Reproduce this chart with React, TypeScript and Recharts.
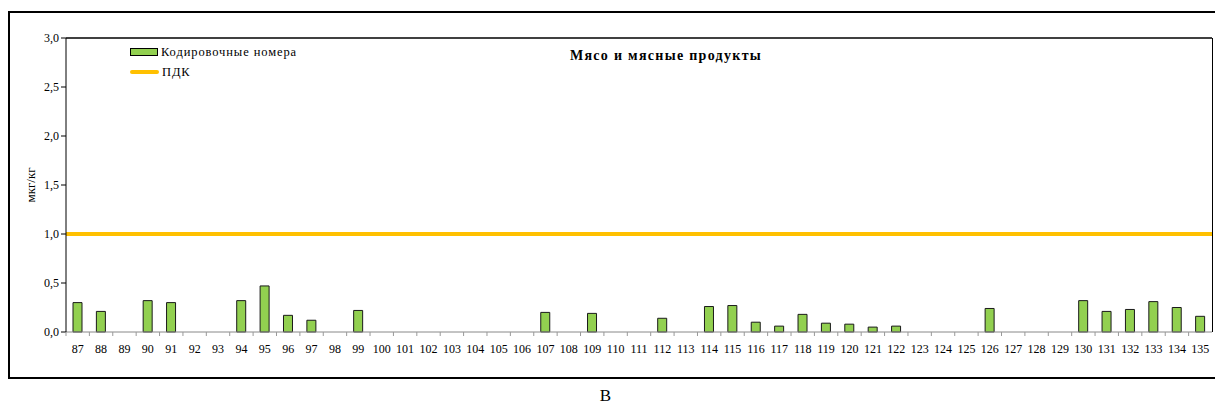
import { Bar, BarChart, ReferenceLine, XAxis, YAxis } from "recharts";

const codes = [
  87, 88, 89, 90, 91, 92, 93, 94, 95, 96, 97, 98, 99, 100, 101, 102, 103, 104, 105, 106, 107, 108,
  109, 110, 111, 112, 113, 114, 115, 116, 117, 118, 119, 120, 121, 122, 123, 124, 125, 126, 127,
  128, 129, 130, 131, 132, 133, 134, 135,
];

const values = [
  0.3, 0.21, 0, 0.32, 0.3, 0, 0, 0.32, 0.47, 0.17, 0.12, 0, 0.22, 0, 0, 0, 0, 0, 0, 0, 0.2, 0,
  0.19, 0, 0, 0.14, 0, 0.26, 0.27, 0.1, 0.06, 0.18, 0.09, 0.08, 0.05, 0.06, 0, 0, 0, 0.24, 0,
  0, 0, 0.32, 0.21, 0.23, 0.31, 0.25, 0.16,
];

const yTicks = [0, 0.5, 1, 1.5, 2, 2.5, 3];
const PDK = 1.0;

const data = codes.map((c, i) => ({ code: String(c), value: values[i] }));

const FONT = "'Liberation Serif', 'Times New Roman', serif";
const PLOT_LEFT = 66;
const PLOT_RIGHT = 1212;
const PLOT_BOTTOM = 332;
const STEP = (PLOT_RIGHT - PLOT_LEFT) / codes.length;

function XTick({ x, payload }: { x?: number; y?: number; payload?: { value: string } }) {
  const cx = x ?? 0;
  return (
    <g>
      <line x1={cx - STEP / 2} x2={cx - STEP / 2} y1={PLOT_BOTTOM} y2={PLOT_BOTTOM + 4} stroke="#999" />
      <text x={cx} y={PLOT_BOTTOM + 21} textAnchor="middle" fontSize={12} fontFamily={FONT} fill="#000">
        {payload?.value}
      </text>
    </g>
  );
}

function LegendBox() {
  return (
    <div style={{ fontFamily: FONT, fontSize: 12.5, letterSpacing: 0.9, color: "#000" }}>
      <div style={{ display: "flex", alignItems: "center", height: 20 }}>
        <span
          style={{
            display: "inline-block",
            width: 26,
            height: 6,
            background: "#92D050",
            border: "1px solid #000",
            marginRight: 3,
          }}
        />
        Кодировочные номера
      </div>
      <div style={{ display: "flex", alignItems: "center", height: 20 }}>
        <span
          style={{
            display: "inline-block",
            width: 29,
            height: 4,
            background: "#FFC000",
            borderRadius: 2,
            marginRight: 3,
          }}
        />
        ПДК
      </div>
    </div>
  );
}

export default function App() {
  return (
    <div style={{ position: "absolute", left: 0, top: 0, width: 1215, height: 417, overflow: "hidden", background: "#fff" }}>
      <div
        style={{
          position: "absolute",
          left: 8,
          top: 11,
          width: 1212,
          height: 364,
          border: "2.5px solid #000",
        }}
      />
      <div style={{ position: "absolute", left: 0, top: 0 }}>
        <BarChart
          width={1215}
          height={390}
          data={data}
          margin={{ top: 38, right: 1215 - PLOT_RIGHT, left: PLOT_LEFT - 30, bottom: 28 }}
          barCategoryGap={0}
        >
          <XAxis
            dataKey="code"
            interval={0}
            height={30}
            tick={<XTick />}
            tickLine={false}
            axisLine={{ stroke: "#888" }}
          />
          <YAxis
            domain={[0, 3]}
            ticks={yTicks}
            width={30}
            tickFormatter={(v: number) => v.toFixed(1).replace(".", ",")}
            tick={{ fontSize: 12, fontFamily: FONT, fill: "#000" }}
            tickLine={{ stroke: "#000" }}
            tickSize={5}
            axisLine={{ stroke: "#000" }}
            label={{
              value: "мкг/кг",
              angle: -90,
              position: "insideLeft",
              offset: -6,
              style: { fontSize: 13, fontFamily: FONT, fill: "#000", textAnchor: "middle" },
            }}
          />
          <ReferenceLine y={3} stroke="#000" strokeWidth={1.5} />
          <ReferenceLine y={PDK} stroke="#FFC000" strokeWidth={4} />
          <Bar
            dataKey="value"
            fill="#92D050"
            stroke="#1a1a1a"
            strokeWidth={1}
            barSize={9}
            isAnimationActive={false}
          />
        </BarChart>
      </div>
      <div style={{ position: "absolute", left: 130, top: 42, width: 260 }}>
        <LegendBox />
      </div>
      <div
        style={{
          position: "absolute",
          left: PLOT_RIGHT,
          top: 38,
          width: 1,
          height: 294,
          background: "#000",
        }}
      />
      <div
        style={{
          position: "absolute",
          left: 466,
          top: 48,
          width: 400,
          textAlign: "center",
          fontFamily: FONT,
          fontWeight: "bold",
          fontSize: 14,
          letterSpacing: 1.3,
          color: "#000",
        }}
      >
        Мясо и мясные продукты
      </div>
      <div
        style={{
          position: "absolute",
          left: 0,
          top: 386,
          width: 1215,
          textAlign: "center",
          fontFamily: FONT,
          fontSize: 17,
          color: "#000",
        }}
      >
        <span style={{ position: "relative", left: -2 }}>В</span>
      </div>
    </div>
  );
}
